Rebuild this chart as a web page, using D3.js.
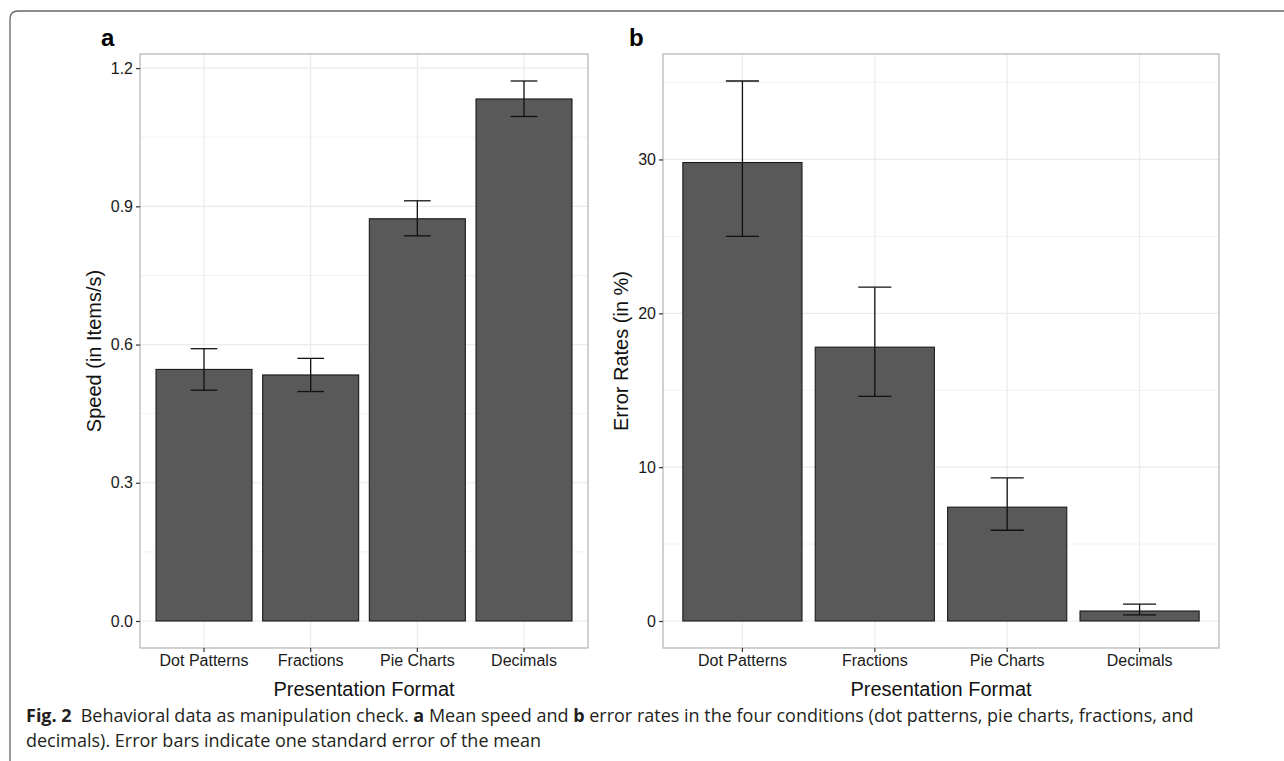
<!DOCTYPE html>
<meta charset="utf-8">
<script src="https://d3js.org/d3.v7.min.js"></script>
<style>
body { margin: 0; background: #fff; }
text { font-family: "Liberation Sans", Arial, sans-serif; }
.caption { font-family: "Open Sans", "Noto Sans", sans-serif; fill: #231f20; }
</style>
<div id="chart"></div>
<script>
// data
var categories = ["Dot Patterns", "Fractions", "Pie Charts", "Decimals"];

var speedMean = [0.546, 0.534, 0.873, 1.133];
var speedLow  = [0.501, 0.498, 0.836, 1.095];
var speedHigh = [0.591, 0.570, 0.912, 1.172];
var speedTicks = [0, 0.3, 0.6, 0.9, 1.2];
var speedMinor = [0.15, 0.45, 0.75, 1.05];

var errMean = [29.8, 17.8, 7.4, 0.65];
var errLow  = [25.0, 14.6, 5.9, 0.4];
var errHigh = [35.1, 21.7, 9.3, 1.1];
var errTicks = [0, 10, 20, 30];
var errMinor = [5, 15, 25, 35];

var W = 1284, H = 761;

var svg = d3.select("#chart")
  .append("svg")
  .attr("width", W)
  .attr("height", H);

// frame of the figure box
svg.append("path")
  .attr("d", "M18,770 Q10,770 10,762 L10,19 Q10,11 18,11 L1290,11")
  .attr("fill", "none")
  .attr("stroke", "#666")
  .attr("stroke-width", 1.3);

function drawPanel(opt) {
  var g = svg.append("g");
  var left = opt.left, right = opt.right, top = 54, bottom = 648;

  var x = d3.scaleBand()
    .domain(categories)
    .range([left, right])
    .paddingInner(0.1)
    .paddingOuter(0.15);

  var hi = d3.max(opt.high);
  var pad = hi * 0.05;
  var y = d3.scaleLinear()
    .domain([-pad, hi + pad])
    .range([bottom, top]);

  // minor grid
  g.selectAll(".minor")
    .data(opt.minor)
    .enter().append("line")
    .attr("x1", left).attr("x2", right)
    .attr("y1", function(d) { return y(d); })
    .attr("y2", function(d) { return y(d); })
    .attr("stroke", "#f2f2f2")
    .attr("stroke-width", 1);

  // major grid
  g.selectAll(".major")
    .data(opt.ticks)
    .enter().append("line")
    .attr("x1", left).attr("x2", right)
    .attr("y1", function(d) { return y(d); })
    .attr("y2", function(d) { return y(d); })
    .attr("stroke", "#ebebeb")
    .attr("stroke-width", 1.2);

  g.selectAll(".vgrid")
    .data(categories)
    .enter().append("line")
    .attr("x1", function(d) { return x(d) + x.bandwidth() / 2; })
    .attr("x2", function(d) { return x(d) + x.bandwidth() / 2; })
    .attr("y1", top).attr("y2", bottom)
    .attr("stroke", "#ebebeb")
    .attr("stroke-width", 1.2);

  // bars
  g.selectAll(".bar")
    .data(categories)
    .enter().append("rect")
    .attr("x", function(d) { return x(d); })
    .attr("width", x.bandwidth())
    .attr("y", function(d, i) { return y(opt.mean[i]); })
    .attr("height", function(d, i) { return y(0) - y(opt.mean[i]); })
    .attr("fill", "#595959")
    .attr("stroke", "#1a1a1a")
    .attr("stroke-width", 1.1);

  // error bars
  var capW = x.step() * 0.25;
  var eb = g.selectAll(".err")
    .data(categories)
    .enter().append("g")
    .attr("stroke", "#111")
    .attr("stroke-width", 1.3);
  eb.append("line")
    .attr("x1", function(d) { return x(d) + x.bandwidth() / 2; })
    .attr("x2", function(d) { return x(d) + x.bandwidth() / 2; })
    .attr("y1", function(d, i) { return y(opt.low[i]); })
    .attr("y2", function(d, i) { return y(opt.high[i]); });
  eb.append("line")
    .attr("x1", function(d) { return x(d) + x.bandwidth() / 2 - capW / 2; })
    .attr("x2", function(d) { return x(d) + x.bandwidth() / 2 + capW / 2; })
    .attr("y1", function(d, i) { return y(opt.high[i]); })
    .attr("y2", function(d, i) { return y(opt.high[i]); });
  eb.append("line")
    .attr("x1", function(d) { return x(d) + x.bandwidth() / 2 - capW / 2; })
    .attr("x2", function(d) { return x(d) + x.bandwidth() / 2 + capW / 2; })
    .attr("y1", function(d, i) { return y(opt.low[i]); })
    .attr("y2", function(d, i) { return y(opt.low[i]); });

  // panel border
  g.append("rect")
    .attr("x", left).attr("y", top)
    .attr("width", right - left).attr("height", bottom - top)
    .attr("fill", "none")
    .attr("stroke", "#b3b3b3")
    .attr("stroke-width", 1.2);

  // axes
  var xAxis = g.append("g")
    .attr("transform", "translate(0," + bottom + ")")
    .call(d3.axisBottom(x).tickSize(4).tickPadding(3));
  var yAxis = g.append("g")
    .attr("transform", "translate(" + left + ",0)")
    .call(d3.axisLeft(y).tickValues(opt.ticks).tickFormat(opt.fmt).tickSize(4).tickPadding(3));
  [xAxis, yAxis].forEach(function(a) {
    a.select(".domain").remove();
    a.selectAll(".tick line").attr("stroke", "#333").attr("stroke-width", 1.2);
    a.selectAll(".tick text")
      .attr("font-family", "Liberation Sans, Arial, sans-serif")
      .attr("font-size", 16)
      .attr("fill", "#1a1a1a");
  });

  // axis titles
  g.append("text")
    .attr("x", (left + right) / 2)
    .attr("y", 696)
    .attr("text-anchor", "middle")
    .attr("font-size", 20)
    .attr("fill", "#111")
    .text("Presentation Format");

  g.append("text")
    .attr("transform", "translate(" + opt.titleX + "," + (top + bottom) / 2 + ") rotate(-90)")
    .attr("text-anchor", "middle")
    .attr("font-size", 20)
    .attr("fill", "#111")
    .text(opt.yTitle);

  // panel letter
  g.append("text")
    .attr("x", opt.letterX)
    .attr("y", 46)
    .attr("font-size", 24)
    .attr("font-weight", "bold")
    .attr("fill", "#000")
    .text(opt.letter);
}

drawPanel({
  left: 140, right: 588,
  mean: speedMean, low: speedLow, high: speedHigh,
  ticks: speedTicks, minor: speedMinor,
  fmt: d3.format(".1f"),
  yTitle: "Speed (in Items/s)", titleX: 101,
  letter: "a", letterX: 101
});

drawPanel({
  left: 663, right: 1219,
  mean: errMean, low: errLow, high: errHigh,
  ticks: errTicks, minor: errMinor,
  fmt: d3.format("d"),
  yTitle: "Error Rates (in %)", titleX: 628,
  letter: "b", letterX: 629
});

// caption
var cap = svg.append("g").attr("class", "caption").attr("font-size", 18);
var l1 = cap.append("text").attr("class", "caption").attr("x", 26).attr("y", 722);
l1.append("tspan").attr("font-weight", "bold").text("Fig. 2");
l1.append("tspan").text("\u2002Behavioral data as manipulation check. ");
l1.append("tspan").attr("font-weight", "bold").text("a");
l1.append("tspan").text(" Mean speed and ");
l1.append("tspan").attr("font-weight", "bold").text("b");
l1.append("tspan").text(" error rates in the four conditions (dot patterns, pie charts, fractions, and");
cap.append("text").attr("class", "caption").attr("x", 26).attr("y", 747)
  .text("decimals). Error bars indicate one standard error of the mean");
</script>
